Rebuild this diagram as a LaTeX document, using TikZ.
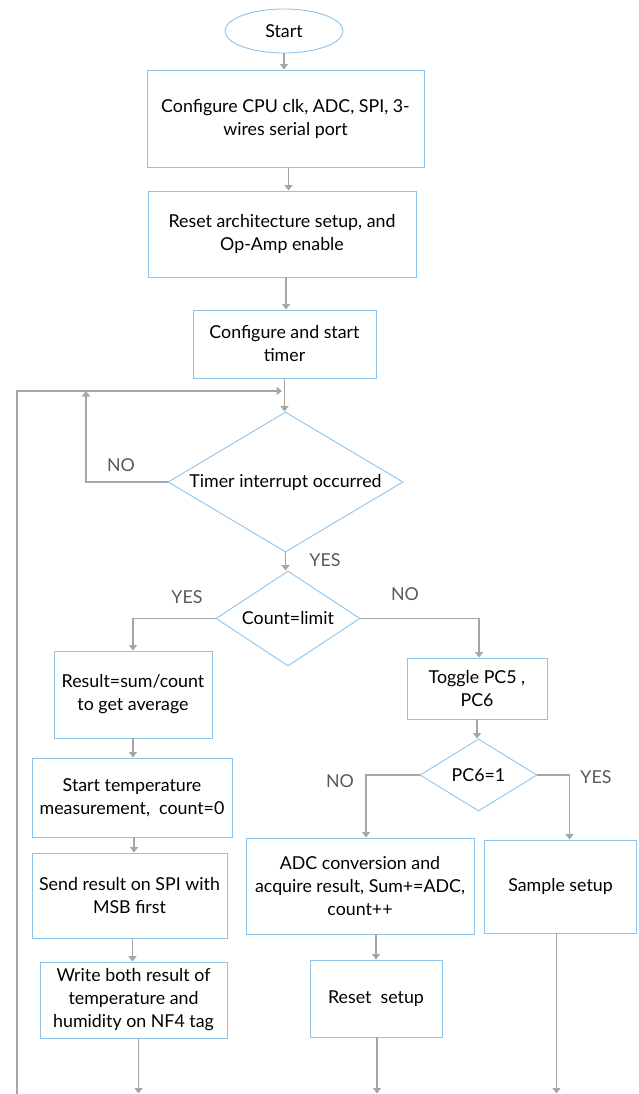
\documentclass[tikz,border=0pt]{standalone}
\usepackage{fontspec}
\setmainfont{Lato}
\usetikzlibrary{shapes.geometric,arrows.meta}

\definecolor{bordbleu}{RGB}{141,196,236}
\definecolor{fleche}{RGB}{166,166,166}
\definecolor{etiq}{RGB}{89,89,89}

\tikzset{
  bloc/.style={draw=bordbleu, line width=0.9pt, rectangle, align=center,
    inner sep=0pt, font=\fontsize{17.8}{23}\selectfont},
  choix/.style={bloc, diamond},
  debut/.style={bloc, ellipse},
  fl/.style={draw=fleche, line width=1.2pt, -{Triangle[width=8pt,length=5.5pt]}},
  trait/.style={draw=fleche, line width=1.2pt},
  etiquette/.style={text=etiq, font=\fontsize{17.8}{23}\selectfont}
}

\begin{document}
\begin{tikzpicture}[x=1pt, y=-1pt]
\useasboundingbox (0,0) rectangle (638,1094);

% Initialisation
\node[debut, minimum width=118pt, minimum height=44pt] (start) at (284,31) {Start};
\node[bloc, minimum width=277pt, minimum height=97pt] (cfg) at (285.5,118.5)
  {Configure CPU clk, ADC, SPI, 3-\\wires serial port};
\node[bloc, minimum width=268pt, minimum height=86pt] (rst) at (282,234)
  {Reset architecture setup, and\\Op-Amp enable};
\node[bloc, minimum width=183pt, minimum height=68pt] (tmr) at (284.5,344)
  {Configure and start\\timer};

% Attente du timer
\node[choix, aspect=1.68, minimum width=235pt, minimum height=140pt] (irq) at (285.5,482)
  {Timer interrupt occurred};
\node[choix, aspect=1.52, minimum width=144pt, minimum height=95pt] (cnt) at (288,618.5)
  {Count=limit};

% Branche de gauche
\node[bloc, minimum width=158pt, minimum height=87pt] (avg) at (133,694.5)
  {Result=sum/count\\to get average};
\node[bloc, minimum width=200pt, minimum height=79pt] (meas) at (132,797.5)
  {Start temperature\\measurement,\ \ count=0};
\node[bloc, minimum width=195pt, minimum height=85pt] (spi) at (129.5,895.5)
  {Send result on SPI with\\MSB first};
\node[bloc, minimum width=187pt, minimum height=76pt] (nfc) at (133.5,1000)
  {Write both result of\\temperature and\\humidity on NF4 tag};

% Branche de droite
\node[bloc, minimum width=140pt, minimum height=61pt] (tog) at (477,688.5)
  {Toggle PC5 ,\\PC6};
\node[choix, aspect=1.63, minimum width=117pt, minimum height=72pt] (pc6) at (478.5,775)
  {PC6=1};
\node[bloc, minimum width=228pt, minimum height=96pt] (adc) at (360,886)
  {ADC conversion and\\acquire result, Sum+=ADC,\\count++};
\node[bloc, minimum width=152pt, minimum height=93pt] (smp) at (560.5,886.5)
  {Sample setup};
\node[bloc, minimum width=132pt, minimum height=77pt] (rsu) at (376,998.5)
  {Reset\ \ setup};

% Points de retour
\coordinate (bas) at (17,1093.5);
\coordinate (haut) at (282,391);
\coordinate (jonc) at (86,391);

% Fleches principales
\draw[fl] (start.south) -- (start.south |- cfg.north);
\draw[fl] ([xshift=3pt]cfg.south) -- ([xshift=3pt]cfg.south |- rst.north);
\draw[fl] ([xshift=4pt]rst.south) -- ([xshift=4pt]rst.south |- tmr.north);
\draw[fl] (tmr.south) -- (tmr.south |- irq.north);
\draw[fl] (irq.south) -- (irq.south |- cnt.north);

% Boucles
\draw[fl] (irq.west) -| (jonc);
\draw[fl] (bas) |- (haut);
\draw[trait] (17,1094.4) -- (557,1094.4);

% Count=limit
\draw[fl] (cnt.west) -| (avg.north);
\draw[fl] (cnt.east) -| ([xshift=2pt]tog.north);
\draw[fl] (avg.south) -- (avg.south |- meas.north);
\draw[fl] ([xshift=2pt]meas.south) -- ([xshift=2pt]meas.south |- spi.north);
\draw[fl] ([xshift=3pt]spi.south) -- ([xshift=3pt]spi.south |- nfc.north);
\draw[fl] ([xshift=5pt]nfc.south) -- ([xshift=5pt]nfc.south |- bas);

% PC6=1
\draw[fl] (tog.south) -- (tog.south |- pc6.north);
\draw[fl] (pc6.west) -| ([xshift=6pt]adc.north);
\draw[fl] (pc6.east) -| ([xshift=9pt]smp.north);
\draw[fl] ([xshift=16pt]adc.south) -- ([xshift=16pt]adc.south |- rsu.north);
\draw[fl] ([xshift=1pt]rsu.south) -- ([xshift=1pt]rsu.south |- bas);
\draw[fl] ([xshift=-4pt]smp.south) -- ([xshift=-4pt]smp.south |- bas);

% Etiquettes
\node[etiquette] (non1) at (121,465) {NO};
\node[etiquette] (oui1) at (325,560) {YES};
\node[etiquette] (oui2) at (187,597) {YES};
\node[etiquette] (non2) at (405,594) {NO};
\node[etiquette] (non3) at (340,781) {NO};
\node[etiquette] (oui3) at (596,777) {YES};

\end{tikzpicture}
\end{document}
